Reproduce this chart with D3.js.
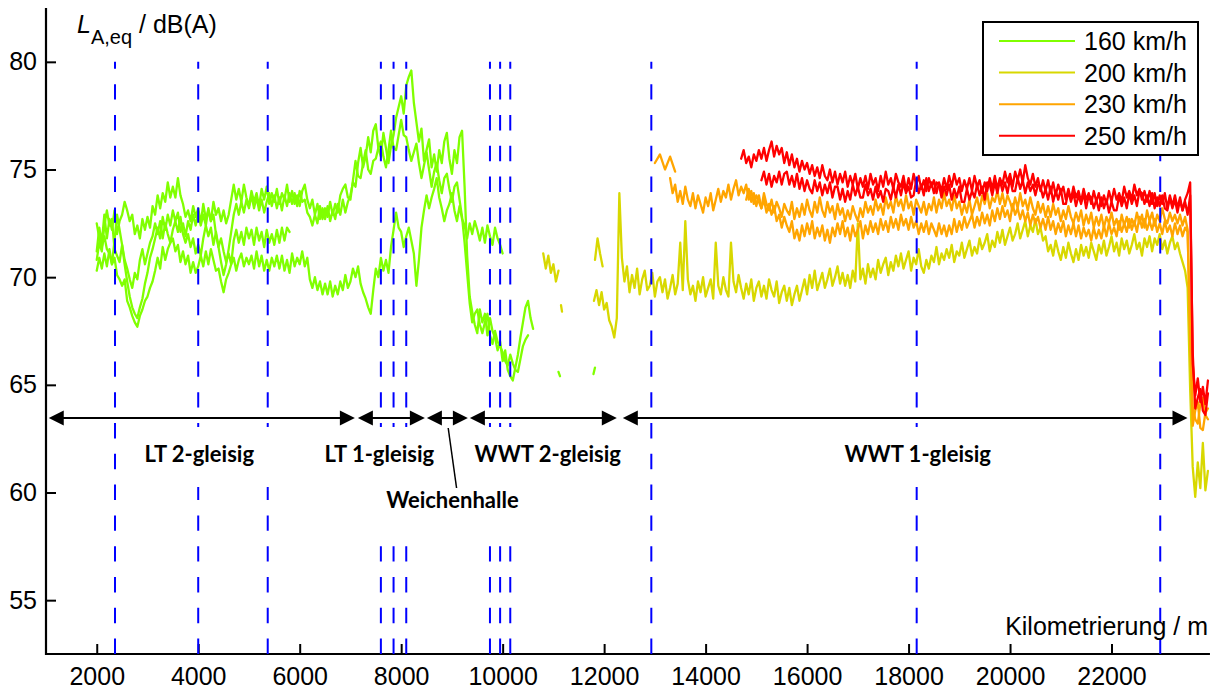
<!DOCTYPE html>
<html>
<head>
<meta charset="utf-8">
<script src="https://cdnjs.cloudflare.com/ajax/libs/d3/7.8.5/d3.min.js"></script>
<style>
    body { margin: 0; background: #fff; }
    svg { display: block; font-family: "Liberation Sans", Arial, Helvetica, sans-serif; }
    .axis text { font-size: 25px; font-family: "Liberation Sans", Arial, sans-serif; fill: #000; }
    .axis line { stroke: #000; stroke-width: 2px; }
    .section { font-family: Lato, "Open Sans", sans-serif; font-weight: bold; font-size: 22px; fill: #000; }
</style>
</head>
<body>
<div class="chart"></div>
<script>
var svgWidth = 1218;
var svgHeight = 693;

var margin = {
    top: 8,
    right: 5,
    bottom: 39,
    left: 46
};

var width = svgWidth - margin.left - margin.right;
var height = svgHeight - margin.top - margin.bottom;

// tick labels
var xTickValues = [2000, 4000, 6000, 8000, 10000, 12000, 14000, 16000, 18000, 20000, 22000];
var yTickValues = [55, 60, 65, 70, 75, 80];

// speeds and colours (legend)
var speeds = ["160 km/h", "200 km/h", "230 km/h", "250 km/h"];
var speedColors = ["#80ff00", "#d8d800", "#ffa500", "#ff0000"];

// tunnel section boundaries (Kilometrierung / m)
var markerKm = [2360, 4000, 5370, 7600, 7850, 8100, 9750, 9950, 10150, 12930, 18160, 22960];

// sections drawn as double arrows
var sectionNames = ["LT 2-gleisig", "LT 1-gleisig", "Weichenhalle", "WWT 2-gleisig", "WWT 1-gleisig"];
var sectionFrom = [1054, 7147, 8507, 9354, 12368];
var sectionTo = [7088, 8467, 9314, 12250, 23498];
var sectionLabelKm = [4020, 7570, 9010, 10890, 18180];

// measured runs, one value every 50 m unless noted
// 160 km/h, from 2000 m
var green1 = [
    71.2, 72.3, 71.6, 72.9, 71.8, 72.7, 72.2, 73.1, 72.0, 72.6,
    72.9, 73.5, 73.1, 72.6, 72.9, 72.0, 72.4, 71.8, 72.7, 72.2,
    72.8, 72.3, 73.3, 72.9, 73.8, 73.2, 73.9, 73.5, 74.4, 73.7,
    74.2, 73.7, 74.6, 73.8, 73.4, 72.8, 73.1, 72.6, 73.3, 72.8,
    73.2, 72.5, 73.4, 72.7, 73.1, 72.6, 73.5, 72.9, 73.2, 72.6,
    73.1, 72.5, 72.9, 73.6, 74.3, 73.6, 74.1, 73.5, 74.3, 73.7,
    73.3, 74.0, 73.5, 73.9, 73.3, 74.1, 73.6, 74.2, 73.4, 73.9,
    73.5, 74.1, 73.4, 73.9, 73.6, 74.3, 73.5, 74.0, 73.4, 73.8,
    73.3, 74.0, 74.3, 73.6, 73.2, 73.6, 72.9, 73.4, 72.7, 73.2,
    72.7, 73.3, 72.6, 73.1, 72.7, 73.4, 72.9, 73.6, 73.0, 73.5,
    73.8, 74.4, 74.2, 75.3, 76.0, 75.1, 75.6, 76.5, 75.8, 76.8,
    77.1, 76.0, 75.6, 76.7, 76.0, 75.3, 76.1, 76.6, 77.4, 77.9,
    78.4, 77.6, 78.9, 79.3, 79.6, 78.1, 77.2, 76.3, 76.9, 75.4,
    75.9, 76.4, 75.1, 75.7, 74.9, 75.9, 75.3, 76.3, 76.7, 75.5,
    74.8, 75.9, 75.3, 76.5, 76.8, 74.2, 71.0, 69.1, 68.4, 67.8,
    67.4, 68.5, 67.9, 68.3, 67.3, 68.1, 67.5, 67.2, 66.6, 67.0,
    66.1, 66.6, 65.7, 65.4, 65.2, 65.8, 66.4, 67.2, 67.9, 68.6,
    68.9, 68.1, 67.6
];
var green2 = [
    70.8, 71.6, 71.2, 72.4, 73.1, 72.4, 72.7, 71.3, 71.0, 70.7,
    71.5, 70.8, 70.4, 69.9, 69.5, 70.2, 69.9, 70.8, 71.3, 70.6,
    71.1, 71.6, 71.9, 72.5, 72.0, 72.6, 71.8, 72.5, 72.0, 71.6,
    72.2, 72.6, 72.1, 72.8, 72.0, 71.6, 72.0, 71.4, 71.8, 71.1,
    71.5, 71.0, 71.8, 72.4, 71.9, 72.3, 71.5, 72.1, 71.4, 71.8,
    71.2, 70.7, 71.1, 70.6, 71.7, 72.2, 71.6, 72.1, 71.5, 72.3,
    71.8, 72.2, 71.5, 72.3, 71.7, 72.1, 71.4, 72.2, 71.6, 72.0,
    71.5, 72.2, 71.6, 72.3, 71.7, 72.3, 72.1
];
var green3 = [
    70.3, 70.9, 70.4, 71.1, 70.5, 71.3, 70.6, 70.9, 70.1, 69.9,
    69.6, 69.9, 68.9, 68.6, 68.2, 67.9, 67.7, 68.2, 68.5, 68.9,
    69.1, 69.5, 69.8, 70.3, 70.9, 70.4, 71.4, 70.8, 71.3, 71.6,
    71.8, 71.2, 71.5, 70.7, 71.2, 70.6, 71.0, 70.2, 70.7, 70.2,
    70.5, 71.0, 70.5, 71.2, 70.6, 71.3, 70.8, 70.3, 70.4, 69.8,
    69.3, 69.9, 70.2, 70.6, 70.9, 70.3, 70.8, 71.1, 70.5, 70.9,
    70.6, 71.0, 70.4, 71.2, 70.5, 71.0, 70.3, 70.8, 70.3, 70.9,
    70.5, 71.0, 70.4, 71.0, 70.3, 70.8, 70.2, 71.1, 70.5, 70.9,
    70.6, 71.2, 70.5, 70.9, 69.9, 69.5, 70.0, 69.4, 69.8, 69.2,
    69.7, 69.2, 69.8, 69.1, 69.6, 69.2, 69.8, 69.4, 70.1, 69.5,
    69.8, 70.4, 70.0, 70.5, 69.7, 69.3, 69.0, 68.6, 68.3, 69.4,
    70.4, 70.0, 70.9, 70.3, 70.8, 70.2, 71.4, 72.2, 73.0, 72.3,
    72.1, 71.4, 71.9, 72.3, 71.7, 71.1, 69.6, 70.8, 72.3, 73.1,
    73.8, 73.2, 73.7, 74.1, 74.6, 73.7, 73.2, 72.6, 73.1, 73.4,
    73.9, 73.1, 72.6, 73.3, 72.7, 72.4, 71.8, 72.5, 72.0, 72.6,
    72.2, 71.7, 72.3, 71.6, 72.4, 71.9, 71.5, 72.3, 71.8, 71.5,
    71.1
];
var green4 = [
    72.5, 71.8, 71.4, 71.9, 71.3, 71.1, 70.6, 71.7, 72.9, 72.2,
    71.5, 70.6, 69.8, 69.1, 68.6, 68.3, 68.1, 68.6, 69.0, 69.7,
    70.2, 70.9, 71.3, 71.8, 72.3, 71.8, 72.8, 72.2, 72.9, 72.4,
    73.1, 72.6, 73.0, 72.1, 72.5, 71.9, 72.6, 72.2, 72.9, 72.4,
    73.0, 72.4, 72.9, 72.4, 73.2, 72.6, 72.9, 72.0, 71.4, 70.7,
    70.1, 70.6, 71.3, 72.1, 72.9, 73.4, 72.9, 73.5, 73.0, 73.6,
    73.2, 73.8, 73.2, 73.7, 73.1, 73.6, 73.0, 73.5, 73.9, 73.3,
    73.8, 73.2, 73.7, 73.1, 73.8, 73.3, 73.9, 73.4, 73.9, 73.3,
    74.0, 73.5, 73.6, 73.0, 72.8, 72.4, 72.9, 72.5, 73.3, 72.7,
    73.2, 72.8, 73.5, 72.9, 73.4, 73.0, 73.8, 74.1, 74.3, 73.7,
    73.6, 74.5, 75.4, 74.7, 74.6, 75.3, 75.9, 75.0, 74.8, 75.4,
    75.5, 76.0, 76.3, 75.6, 75.1, 75.9, 76.8, 76.0, 75.9, 76.6,
    77.3, 76.6, 76.5, 75.9, 75.4, 75.8, 76.2, 75.3, 74.6, 75.2,
    75.8, 75.0, 74.2, 74.9, 75.3, 74.5, 73.9, 74.6, 74.8, 74.1,
    73.5, 74.2, 74.4, 73.6, 72.8, 71.6, 70.2, 68.8, 67.9, 68.3,
    68.5, 67.8, 67.4, 67.9, 68.3, 67.3, 66.9, 67.5, 67.0, 66.8,
    66.5, 66.1, 65.9, 66.4, 66.0, 65.7, 65.6, 66.2, 66.8, 67.1,
    67.3
];
var greenDot1 = [65.6, 65.4];   // every 30 m
var greenDot2 = [65.5, 65.8];   // every 30 m

// 200 km/h
var yellowPiece1 = [71.1, 70.4, 71.0, 70.2, 70.6, 69.8, 70.3];
var yellowPiece2 = [68.7, 68.4];                                // every 20 m
var yellowPiece3 = [70.8, 71.8, 71.1, 70.5];
var yellow1 = [
    68.9, 69.4, 68.7, 69.3, 68.5, 68.8, 68.0, 67.7, 67.2, 68.1,
    73.9, 70.9, 69.8, 70.5, 69.3, 70.1, 69.5, 70.4, 69.2, 69.9,
    70.3, 69.4, 69.6, 70.2, 69.1, 69.8, 70.0, 69.3, 69.9, 69.0,
    69.5, 70.1, 69.2, 69.7, 71.6, 69.4, 72.6, 69.9, 69.2, 69.6,
    68.9, 69.8, 69.3, 70.0, 69.1, 69.5, 69.9, 69.0, 71.6, 69.6,
    69.2, 70.0, 69.4, 69.1, 71.6, 69.8, 69.3, 70.1, 69.5, 69.0,
    69.7, 69.2, 69.9, 68.9, 69.5, 69.8, 69.1, 69.6, 69.0, 69.9,
    69.4, 69.1, 69.8, 68.8, 69.3, 69.6, 68.9, 69.5, 68.7, 69.2,
    69.6, 68.9, 69.4, 69.9, 69.2, 70.1, 69.5, 70.3, 69.4, 69.8,
    70.2, 69.5, 69.9, 70.4, 69.6, 70.0, 70.5, 69.7, 70.2, 69.6,
    70.1, 69.5, 70.3, 69.8, 72.5, 69.9, 70.4, 69.7, 70.6, 70.0,
    70.4, 69.9, 70.8, 70.2, 70.6, 70.9, 70.1, 70.7, 70.3, 71.0,
    70.5, 71.1, 70.4, 70.8, 71.2, 70.3, 70.9, 70.6, 71.3, 70.5,
    70.2, 70.8, 70.4, 71.0, 70.7, 71.4, 70.6, 71.1, 70.8, 71.3,
    70.9, 71.5, 70.7, 71.2, 71.0, 71.6, 70.9, 71.3, 71.7, 71.0,
    71.4, 71.1, 71.8, 71.3, 71.6, 72.0, 71.2, 71.7, 71.4, 72.1,
    71.6, 72.2, 71.5, 71.9, 72.3, 71.7, 72.0, 72.5, 71.8, 72.2,
    72.6, 71.9, 72.4, 72.1, 72.7, 72.0, 72.3, 71.7, 71.9, 71.2,
    71.5, 71.0, 71.7, 71.2, 70.8, 71.4, 70.9, 71.6, 71.1, 70.7,
    71.3, 70.8, 71.5, 71.0, 71.4, 70.9, 71.6, 71.2, 70.8, 71.5,
    71.1, 71.7, 71.0, 71.4, 71.9, 71.2, 71.6, 71.0, 71.8, 71.3,
    71.7, 71.1, 71.5, 72.0, 71.3, 71.6, 71.0, 71.8, 71.4, 71.9,
    71.2, 71.8, 71.5, 72.0, 71.3, 71.7, 71.1, 71.6, 71.9, 71.3,
    71.6, 71.1, 70.7, 70.3, 69.5, 64.8, 61.2, 59.8, 61.4, 60.2,
    62.3, 60.1, 61.0
];

// 230 km/h
var orangePiece = [75.3, 75.7, 75.0, 75.6, 74.9];              // every 100 m
var orange1 = [
    74.6, 73.9, 74.3, 73.5, 74.0, 73.4, 74.2, 73.6, 73.3, 73.9,
    73.2, 73.8, 73.4, 73.0, 73.7, 73.3, 73.9, 73.1, 73.6, 74.1,
    73.5, 74.0, 73.7, 74.3, 73.6, 74.1, 74.5, 73.8, 74.2, 73.9,
    74.3, 73.6, 74.0, 73.4, 73.8, 73.5, 73.2, 73.9, 73.4, 73.1,
    73.6, 73.0, 73.5, 73.2, 72.8, 73.4, 73.1, 72.9, 73.5, 72.7,
    73.2, 72.8, 73.4, 72.9, 73.6, 73.1, 72.8, 73.5, 73.0, 73.7,
    73.1, 72.8, 73.5, 73.0, 73.3, 72.7, 73.4, 72.9, 73.2, 72.6,
    73.1, 72.7, 73.3, 72.9, 72.6, 73.2, 72.8, 73.5, 73.0, 73.3,
    72.9, 73.6, 73.1, 73.4, 72.9, 73.7, 73.2, 73.5, 73.0, 73.8,
    73.3, 73.6, 73.1, 73.8, 73.2, 73.5, 72.9, 73.6, 73.3, 73.0,
    73.5, 72.9, 73.4, 73.1, 73.7, 73.0, 73.6, 73.2, 73.9, 73.3,
    73.6, 73.1, 73.8, 73.2, 73.5, 72.9, 73.4, 73.0, 73.6, 72.9,
    73.3, 73.7, 73.1, 73.8, 73.4, 73.9, 73.2, 73.7, 73.5, 74.0,
    73.4, 73.9, 73.3, 73.8, 73.5, 73.1, 73.7, 73.2, 73.9, 73.3,
    73.6, 73.1, 73.7, 73.2, 72.9, 73.5, 73.0, 73.4, 72.8, 73.3,
    72.8, 73.4, 72.9, 73.2, 72.6, 73.1, 72.7, 73.3, 72.8, 72.5,
    73.0, 72.6, 73.1, 72.4, 72.9, 72.5, 73.0, 72.3, 72.8, 72.4,
    72.9, 72.3, 72.8, 72.5, 73.0, 72.4, 72.7, 72.2, 72.9, 72.4,
    72.8, 72.3, 72.7, 72.4, 73.0, 72.5, 72.9, 72.3, 73.1, 72.6,
    73.0, 72.4, 72.9, 72.6, 73.2, 72.7, 72.5, 73.0, 72.6, 72.9,
    72.5, 72.9, 72.4, 72.8, 72.2, 67.0, 63.1, 63.8, 64.2, 63.0,
    62.9, 63.7, 63.9
];
var orange2 = [
    73.6, 74.1, 73.5, 73.9, 73.3, 73.8, 73.2, 73.6, 73.0, 73.4,
    72.9, 73.3, 72.6, 72.9, 72.3, 72.8, 72.4, 72.1, 72.6, 71.8,
    72.2, 71.7, 72.4, 71.9, 72.5, 72.0, 72.6, 71.8, 72.3, 71.9,
    72.4, 71.7, 72.2, 71.6, 72.3, 71.9, 72.5, 72.0, 72.6, 71.9,
    72.3, 71.7, 72.4, 71.9, 72.2, 72.6, 71.8, 72.4, 72.0, 72.6,
    72.1, 72.5, 72.0, 72.7, 72.2, 72.6, 72.1, 72.8, 72.3, 72.7,
    72.2, 72.9, 72.4, 72.7, 72.2, 72.8, 72.3, 72.6, 72.0, 72.5,
    72.1, 72.6, 72.0, 72.5, 72.2, 71.9, 72.5, 72.0, 72.4, 71.9,
    72.4, 72.0, 72.7, 72.1, 72.6, 72.2, 72.8, 72.3, 72.6, 72.9,
    72.3, 72.8, 72.4, 73.0, 72.5, 72.9, 72.4, 73.1, 72.6, 73.2,
    72.7, 73.3, 72.8, 73.1, 72.6, 73.4, 72.9, 73.2, 72.7, 73.1,
    72.6, 73.0, 72.4, 72.9, 72.5, 72.8, 72.3, 72.7, 72.2, 72.8,
    72.2, 72.6, 72.0, 72.5, 72.1, 72.6, 71.9, 72.4, 72.0, 72.5,
    71.9, 72.4, 71.8, 72.3, 71.9, 72.2, 71.7, 72.3, 71.8, 72.2,
    71.8, 72.4, 71.9, 72.5, 72.0, 72.3, 71.9, 72.6, 72.1, 72.5,
    72.1, 72.7, 72.2, 72.6, 72.1, 72.8, 72.3, 72.7, 72.2, 72.6,
    72.2, 72.7, 72.1, 72.5, 72.0, 72.6, 72.1, 72.4, 71.9, 72.5,
    72.0, 72.4, 71.9, 72.3, 72.1, 67.5, 64.0, 63.4, 63.2, 64.1,
    64.4, 63.6, 63.4
];

// 250 km/h
var red1 = [
    75.5, 75.9, 75.3, 75.6, 75.1, 75.7, 75.4, 75.9, 75.5, 76.0,
    75.4, 75.9, 76.3, 75.6, 76.1, 75.7, 76.0, 75.3, 75.8, 75.2,
    75.7, 75.1, 75.5, 74.9, 75.4, 75.0, 75.3, 74.8, 75.2, 74.7,
    75.1, 74.6, 75.2, 74.7, 74.5, 75.0, 74.4, 74.9, 74.3, 74.8,
    74.4, 74.9, 74.2, 74.7, 74.3, 74.8, 74.1, 74.6, 74.2, 74.7,
    74.1, 74.8, 74.3, 74.6, 74.0, 74.7, 74.2, 74.9, 74.3, 74.6,
    74.1, 74.8, 74.4, 74.2, 74.7, 74.0, 74.6, 74.1, 74.8, 74.3,
    74.7, 74.1, 74.5, 74.0, 74.6, 74.2, 74.5, 73.9, 74.4, 74.0,
    74.6, 74.1, 74.7, 74.2, 74.8, 74.3, 74.6, 74.0, 74.5, 74.1,
    74.6, 74.0, 74.7, 74.2, 74.5, 73.9, 74.4, 74.0, 74.6, 74.1,
    74.7, 74.1, 74.6, 74.3, 74.9, 74.4, 74.8, 74.2, 74.9, 74.5,
    75.0, 74.4, 75.2, 74.6, 74.3, 74.8, 74.2, 74.6, 74.0, 74.5,
    74.0, 74.5, 73.9, 74.4, 73.8, 74.3, 73.9, 74.2, 73.6, 74.1,
    73.6, 74.2, 73.7, 74.0, 73.5, 74.1, 73.6, 73.9, 73.4, 74.0,
    73.5, 73.9, 73.3, 73.8, 73.4, 74.0, 73.5, 74.1, 73.6, 73.9,
    73.5, 74.2, 73.7, 74.0, 73.6, 74.3, 73.8, 74.1, 73.6, 74.0,
    73.5, 74.0, 73.4, 73.9, 73.3, 73.8, 73.4, 73.9, 73.2, 73.8,
    73.3, 73.8, 73.2, 73.7, 73.1, 73.6, 73.9, 74.4, 66.0, 64.5,
    65.3, 64.2, 64.9, 64.1, 65.2
];
var red2 = [
    74.5, 74.9, 74.3, 74.8, 74.2, 74.7, 74.4, 74.9, 74.3, 74.8,
    74.9, 74.3, 74.7, 74.2, 74.8, 74.1, 74.6, 74.0, 74.5, 74.1,
    73.9, 74.5, 74.0, 74.4, 73.8, 74.3, 73.9, 74.4, 73.7, 74.2,
    74.2, 73.6, 74.1, 73.5, 74.0, 73.6, 74.3, 73.8, 74.2, 73.7,
    73.7, 74.3, 73.8, 74.1, 73.6, 74.2, 73.7, 74.0, 73.5, 74.1,
    74.0, 73.6, 74.2, 73.7, 74.3, 73.8, 74.4, 73.9, 74.2, 73.7,
    73.8, 74.5, 73.9, 74.3, 73.8, 74.6, 74.0, 74.4, 73.9, 74.4,
    74.3, 73.7, 74.2, 73.8, 74.3, 73.6, 74.1, 73.7, 74.2, 73.5,
    73.5, 74.1, 73.6, 74.0, 73.7, 74.3, 73.8, 74.2, 73.6, 74.4,
    74.3, 73.8, 74.4, 73.9, 74.5, 74.0, 74.4, 73.9, 74.6, 74.0,
    74.0, 74.6, 74.1, 74.5, 73.9, 74.4, 74.0, 74.3, 73.8, 74.3,
    74.2, 73.7, 74.1, 73.6, 74.2, 73.5, 74.0, 73.6, 74.1, 73.4,
    73.4, 74.0, 73.5, 73.9, 73.3, 73.8, 73.4, 73.9, 73.2, 73.8,
    73.7, 73.2, 73.6, 73.1, 73.7, 73.2, 73.6, 73.0, 73.5, 73.1,
    73.1, 73.8, 73.3, 73.7, 73.2, 73.9, 73.4, 73.8, 73.3, 74.0,
    73.9, 73.4, 73.8, 73.3, 73.9, 73.2, 73.7, 73.3, 73.8, 73.2,
    73.1, 73.7, 73.2, 73.6, 73.0, 73.6, 73.1, 73.5, 72.9, 73.8,
    66.5, 63.9, 64.4, 64.8, 63.8, 63.6, 64.6
];

// run table: speed index, start km, step m, values
var runs = [
    { speed: 0, start: 2000, step: 50, values: green1 },
    { speed: 0, start: 2000, step: 50, values: green2 },
    { speed: 0, start: 2000, step: 50, values: green3 },
    { speed: 0, start: 2000, step: 50, values: green4 },
    { speed: 0, start: 11100, step: 30, values: greenDot1 },
    { speed: 0, start: 11790, step: 30, values: greenDot2 },
    { speed: 1, start: 10800, step: 50, values: yellowPiece1 },
    { speed: 1, start: 11150, step: 20, values: yellowPiece2 },
    { speed: 1, start: 11820, step: 50, values: yellowPiece3 },
    { speed: 1, start: 11800, step: 50, values: yellow1 },
    { speed: 2, start: 13000, step: 100, values: orangePiece },
    { speed: 2, start: 13300, step: 50, values: orange1 },
    { speed: 2, start: 14800, step: 50, values: orange2 },
    { speed: 3, start: 14700, step: 50, values: red1 },
    { speed: 3, start: 15100, step: 50, values: red2 }
];

var svg = d3
    .select(".chart")
    .append("svg")
    .attr("width", svgWidth)
    .attr("height", svgHeight);

var chartGroup = svg.append("g")
    .attr("transform", `translate(${margin.left}, ${margin.top})`);

var xLinearScale = d3.scaleLinear()
    .domain([1000, 24000])
    .range([0, width]);

var yLinearScale = d3.scaleLinear()
    .domain([52.5, 82.5])
    .range([height, 0]);

// axes, ticks pointing inwards
var bottomAxis = d3.axisBottom(xLinearScale)
    .tickValues(xTickValues)
    .tickFormat(d3.format("d"))
    .tickSize(-10)
    .tickPadding(13);

var leftAxis = d3.axisLeft(yLinearScale)
    .tickValues(yTickValues)
    .tickSize(-10)
    .tickPadding(9);

var xAxis = chartGroup.append("g")
    .classed("axis", true)
    .attr("transform", `translate(0, ${height})`)
    .call(bottomAxis);
xAxis.select(".domain").remove();

var yAxis = chartGroup.append("g")
    .classed("axis", true)
    .call(leftAxis);
yAxis.select(".domain").remove();

chartGroup.append("line")
    .attr("x1", 0).attr("x2", xLinearScale(23940))
    .attr("y1", height).attr("y2", height)
    .attr("stroke", "#000").attr("stroke-width", 2.2);

chartGroup.append("line")
    .attr("x1", 0).attr("x2", 0)
    .attr("y1", 0).attr("y2", height + 1)
    .attr("stroke", "#000").attr("stroke-width", 2.2);

// measured curves
var line = d3.line()
    .x(d => xLinearScale(d.km))
    .y(d => yLinearScale(d.db));

runs.forEach(function(run) {
    var points = run.values.map((v, i) => ({ km: run.start + i * run.step, db: v }));
    chartGroup.append("path")
        .datum(points)
        .attr("d", line)
        .attr("fill", "none")
        .attr("stroke", speedColors[run.speed])
        .attr("stroke-width", 2.3)
        .attr("stroke-linejoin", "round")
        .attr("stroke-linecap", "round");
});

// vertical dashed section markers, drawn from the bottom up
chartGroup.selectAll(".marker")
    .data(markerKm)
    .enter()
    .append("line")
    .classed("marker", true)
    .attr("x1", d => xLinearScale(d))
    .attr("x2", d => xLinearScale(d))
    .attr("y1", yLinearScale(52.5))
    .attr("y2", yLinearScale(80))
    .attr("stroke", "#0000ff")
    .attr("stroke-width", 2)
    .attr("stroke-dasharray", "15.4,15.4");

// white boxes behind the section labels
var arrowY = 410;
chartGroup.append("rect")
    .attr("x", 79).attr("y", 419).attr("width", 150).attr("height", 60)
    .attr("fill", "#fff");
chartGroup.append("rect")
    .attr("x", 272).attr("y", 419).attr("width", 310).attr("height", 116)
    .attr("fill", "#fff");
chartGroup.append("rect")
    .attr("x", 795).attr("y", 419).attr("width", 155).attr("height", 60)
    .attr("fill", "#fff");

// double arrows
function arrowHead(x, dir) {
    // dir = -1 for left-pointing, +1 for right-pointing
    var len = 15, half = 7.5;
    return `M${x},${arrowY} L${x - dir * len},${arrowY - half} L${x - dir * len},${arrowY + half} Z`;
}

sectionNames.forEach(function(name, i) {
    var x1 = xLinearScale(sectionFrom[i]);
    var x2 = xLinearScale(sectionTo[i]);
    chartGroup.append("line")
        .attr("x1", x1 + 10).attr("x2", x2 - 10)
        .attr("y1", arrowY).attr("y2", arrowY)
        .attr("stroke", "#000").attr("stroke-width", 2);
    chartGroup.append("path").attr("d", arrowHead(x1, -1)).attr("fill", "#000");
    chartGroup.append("path").attr("d", arrowHead(x2, 1)).attr("fill", "#000");

    var labelY = name === "Weichenhalle" ? 500 : 454;
    chartGroup.append("text")
        .classed("section", true)
        .attr("x", xLinearScale(sectionLabelKm[i]))
        .attr("y", labelY)
        .attr("text-anchor", "middle")
        .text(name);
});

// leader line for Weichenhalle
chartGroup.append("line")
    .attr("x1", xLinearScale(8927)).attr("y1", arrowY + 10)
    .attr("x2", xLinearScale(9092)).attr("y2", 480)
    .attr("stroke", "#000").attr("stroke-width", 1.5);

// axis titles
var yTitle = svg.append("text")
    .attr("x", 77)
    .attr("y", 33)
    .attr("font-size", 25);
yTitle.append("tspan").attr("font-style", "italic").text("L");
yTitle.append("tspan").attr("font-size", 20).attr("dy", 11).text("A,eq");
yTitle.append("tspan").attr("dy", -11).text(" / dB(A)");

svg.append("text")
    .attr("x", 1208)
    .attr("y", 635)
    .attr("text-anchor", "end")
    .attr("font-size", 25)
    .text("Kilometrierung / m");

// legend
var legend = svg.append("g")
    .attr("transform", "translate(983, 22)");

legend.append("rect")
    .attr("width", 215)
    .attr("height", 133)
    .attr("fill", "#fff")
    .attr("stroke", "#000")
    .attr("stroke-width", 2);

speeds.forEach(function(s, i) {
    var ly = 19 + i * 31.6;
    legend.append("line")
        .attr("x1", 16).attr("x2", 92)
        .attr("y1", ly).attr("y2", ly)
        .attr("stroke", speedColors[i])
        .attr("stroke-width", 2);
    legend.append("text")
        .attr("x", 101)
        .attr("y", ly)
        .attr("dy", "0.36em")
        .attr("font-size", 25)
        .text(s);
});
</script>
</body>
</html>
